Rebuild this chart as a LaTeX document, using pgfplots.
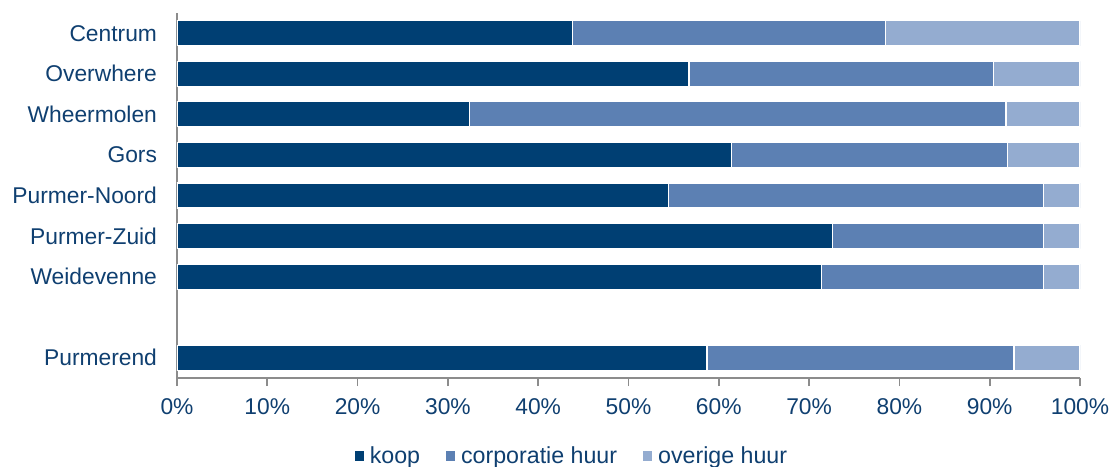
\documentclass[border=0pt]{standalone}
\usepackage{pgfplots}
\usepackage{pgfplotstable}
\pgfplotsset{compat=1.18}
\usepackage{fontspec}
\setmainfont{Liberation Sans}

\definecolor{koop}{HTML}{003F73}
\definecolor{corp}{HTML}{5C80B3}
\definecolor{overig}{HTML}{94ACD0}
\definecolor{txt}{HTML}{0F3F70}
\definecolor{axgray}{HTML}{8C8C8C}

% woningvoorraad naar eigendom, in procenten per wijk
\pgfplotstableread{
y koop corp overig
9 43.8 34.7 21.5
8 56.7 33.7 9.6
7 32.4 59.4 8.2
6 61.4 30.6 8.0
5 54.4 41.6 4.0
4 72.6 23.4 4.0
3 71.4 24.6 4.0
1 58.7 34.0 7.3
}\data

\begin{document}
\begin{tikzpicture}
\begin{axis}[
  scale only axis,
  width=451.5pt, height=182.5pt,
  xbar stacked, bar width=12.5pt,
  xmin=0, xmax=100, ymin=0.5, ymax=9.5,
  axis x line*=bottom, axis y line*=left,
  axis line style={draw=axgray, line width=0.8pt, -},
  xtick={0,10,...,100},
  xticklabel={\pgfmathprintnumber{\tick}\%},
  ytick={1,3,4,5,6,7,8,9},
  yticklabels={Purmerend,Weidevenne,Purmer-Zuid,Purmer-Noord,Gors,Wheermolen,Overwhere,Centrum},
  y tick style={draw=none},
  x tick style={draw=axgray, line width=0.8pt},
  tick align=outside, major tick length=4pt,
  /pgf/number format/assume math mode=true,
  ticklabel style={font=\fontsize{11.4}{13}\selectfont, text=txt},
  xticklabel style={yshift=-3pt},
  yticklabel style={xshift=-2.5pt},
  legend style={at={(0.4385,-0.214)}, anchor=center, legend columns=3,
    draw=none, fill=none, font=\fontsize{11.6}{13}\selectfont, text=txt,
    /tikz/every even column/.append style={column sep=11pt},
    /tikz/every odd column/.append style={column sep=1pt}},
  legend image code/.code={\fill[#1,draw=none] (0pt,-2.5pt) rectangle (4.5pt,2.5pt);},
]
\addplot[fill=koop, draw=white, line width=0.6pt] table[x=koop, y=y] {\data};
\addplot[fill=corp, draw=white, line width=0.6pt] table[x=corp, y=y] {\data};
\addplot[fill=overig, draw=white, line width=0.6pt] table[x=overig, y=y] {\data};
\legend{koop, corporatie huur, overige huur}
\end{axis}
\pgfresetboundingbox
\useasboundingbox (-88.5pt,-44pt) rectangle (468pt,189pt);
\end{tikzpicture}
\end{document}
